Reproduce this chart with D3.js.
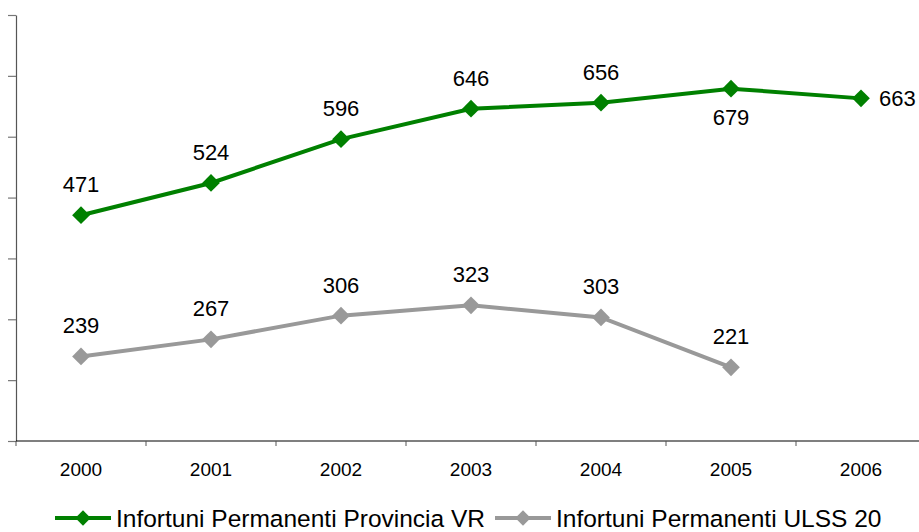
<!DOCTYPE html>
<html>
<head>
<meta charset="utf-8">
<script src="https://cdnjs.cloudflare.com/ajax/libs/d3/7.8.5/d3.min.js"></script>
<style>
  body { margin: 0; background: #fff; }
  svg { display: block; font-family: "Liberation Sans", Arial, sans-serif; }
</style>
</head>
<body>
<svg width="919" height="532"></svg>
<script>
var years = ["2000", "2001", "2002", "2003", "2004", "2005", "2006"];
var provinciaVR = [471, 524, 596, 646, 656, 679, 663];
var ulss20 = [239, 267, 306, 323, 303, 221, null];
var yTicks = [100, 200, 300, 400, 500, 600, 700, 800];
var seriesNames = ["Infortuni Permanenti Provincia VR", "Infortuni Permanenti ULSS 20"];
var seriesColors = ["#008000", "#999999"];

var svg = d3.select("svg"),
    plotLeft = 16, plotTop = 15, plotBottom = 441,
    band = 130;

var x = d3.scaleBand().domain(years).range([plotLeft, plotLeft + band * years.length]).padding(0),
    y = d3.scaleLinear().domain([100, 800]).range([plotBottom, plotTop]);

// y axis, no labels
var yAxis = svg.append("g")
    .attr("transform", "translate(" + plotLeft + ",0)")
    .call(d3.axisLeft(y).tickValues(yTicks).tickSize(8).tickSizeOuter(0).tickFormat(""));
yAxis.select(".domain").attr("stroke", "#555").attr("stroke-width", 1.2);
yAxis.selectAll(".tick line").attr("stroke", "#777").attr("stroke-width", 1.2);

// x axis: ticks between categories
var xAxis = svg.append("g")
    .attr("transform", "translate(0," + plotBottom + ")");
xAxis.append("line")
    .attr("x1", plotLeft).attr("x2", 919)
    .attr("stroke", "#000").attr("stroke-width", 1.2);
xAxis.selectAll(".xt")
    .data(years)
    .enter().append("line")
    .attr("x1", function(d) { return x(d); })
    .attr("x2", function(d) { return x(d); })
    .attr("y1", 0).attr("y2", 5)
    .attr("stroke", "#555");
xAxis.selectAll(".xl")
    .data(years)
    .enter().append("text")
    .attr("x", function(d) { return x(d) + x.bandwidth() / 2; })
    .attr("y", 35)
    .attr("text-anchor", "middle")
    .style("font-size", "19px")
    .text(function(d) { return d; });

var diamond = d3.symbol().type(d3.symbolDiamond2).size(200);

var series = [provinciaVR, ulss20].map(function(vals, i) {
    return {
        name: seriesNames[i],
        color: seriesColors[i],
        values: years.map(function(yr, j) { return {year: yr, v: vals[j]}; })
                     .filter(function(d) { return d.v != null; })
    };
});

var line = d3.line()
    .x(function(d) { return x(d.year) + x.bandwidth() / 2; })
    .y(function(d) { return y(d.v); });

series.forEach(function(s, si) {
    svg.append("path")
        .attr("d", line(s.values))
        .attr("fill", "none")
        .attr("stroke", s.color)
        .attr("stroke-width", 4);

    svg.selectAll(".pt" + si)
        .data(s.values)
        .enter().append("path")
        .attr("d", diamond)
        .attr("fill", s.color)
        .attr("transform", function(d) {
            return "translate(" + (x(d.year) + x.bandwidth() / 2) + "," + y(d.v) + ")";
        });

    svg.selectAll(".lb" + si)
        .data(s.values)
        .enter().append("text")
        .attr("x", function(d) {
            var cx = x(d.year) + x.bandwidth() / 2;
            return (si === 0 && d.year === "2006") ? cx + 18 : cx;
        })
        .attr("y", function(d) {
            var cy = y(d.v);
            if (si === 0 && d.year === "2006") return cy + 8;
            if (si === 0 && d.year === "2005") return cy + 36;
            return cy - 23;
        })
        .attr("text-anchor", function(d) {
            return (si === 0 && d.year === "2006") ? "start" : "middle";
        })
        .style("font-size", "22px")
        .text(function(d) { return d.v; });
});

// legend
var legendX = [55, 495];
var leg = svg.selectAll(".leg")
    .data(series)
    .enter().append("g")
    .attr("transform", function(d, i) { return "translate(" + legendX[i] + ",518)"; });
leg.append("line")
    .attr("x1", 0).attr("x2", 56)
    .attr("stroke", function(d) { return d.color; })
    .attr("stroke-width", 4);
leg.append("path")
    .attr("d", d3.symbol().type(d3.symbolDiamond2).size(150))
    .attr("transform", "translate(28,0)")
    .attr("fill", function(d) { return d.color; });
leg.append("text")
    .attr("x", 61)
    .attr("y", 9)
    .style("font-size", "24.5px")
    .text(function(d) { return d.name; });
</script>
</body>
</html>
